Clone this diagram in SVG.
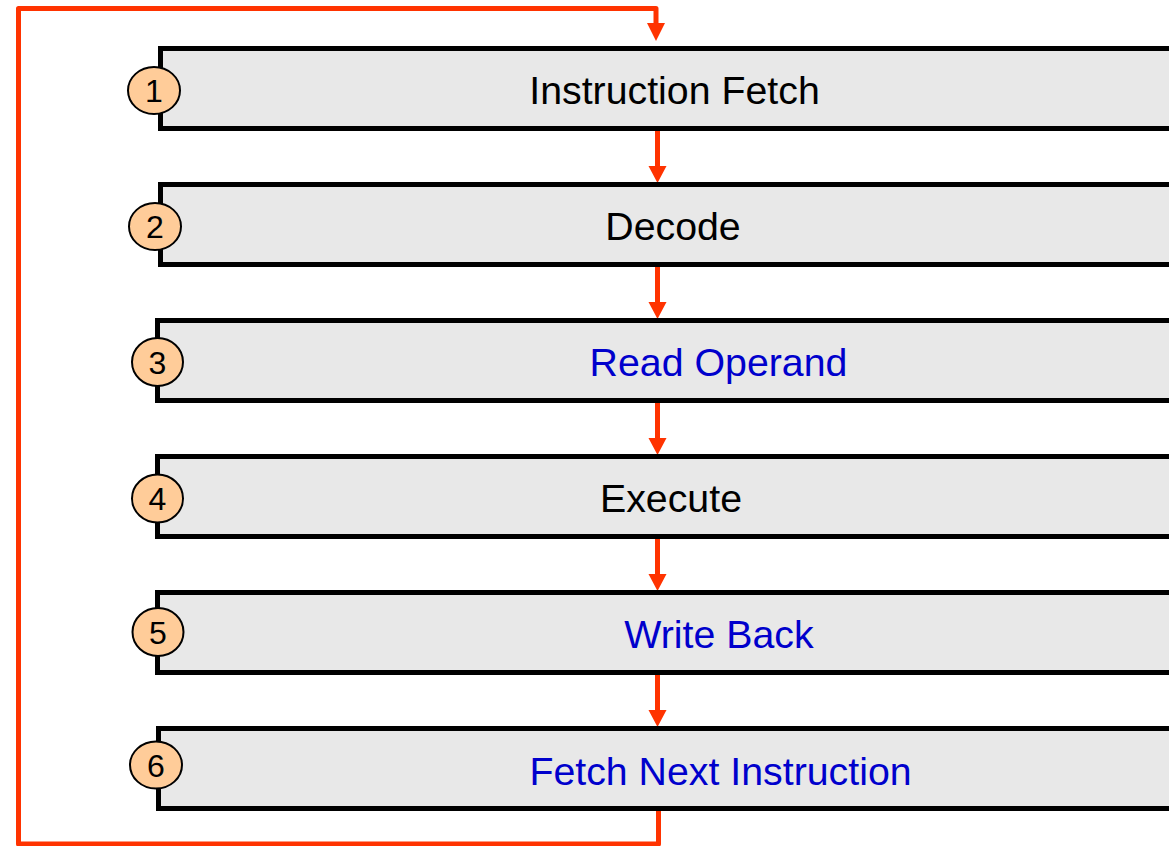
<svg xmlns="http://www.w3.org/2000/svg" width="1169" height="846" viewBox="0 0 1169 846">
  <style>
    .box { fill: #E8E8E8; stroke: #000; stroke-width: 5; }
    .badge { fill: #FFCC99; stroke: #000; stroke-width: 2; }
    .num { font-family: "Liberation Sans", Arial, sans-serif; font-size: 32px; fill: #000; text-anchor: middle; }
    .label { font-family: "Liberation Sans", Arial, sans-serif; font-size: 39.3px; text-anchor: middle; }
    .black { fill: #000; }
    .blue { fill: #0000CC; }
    .flow { fill: none; stroke: #FF3300; stroke-width: 5; stroke-linejoin: round; }
    .head { fill: #FF3300; }
  </style>

  <!-- connectors -->
  <g id="connectors">
    <!-- loop back from the last stage to the first -->
    <polyline class="flow" points="658.5,811 658.5,844 18.5,844 18.5,8.5 656,8.5 656,26"/>
    <polygon class="head" points="647,23 665,23 656,41"/>
    <!-- stage to stage -->
    <line class="flow" x1="657.5" y1="131" x2="657.5" y2="168"/>
    <polygon class="head" points="648.5,166 666.5,166 657.5,183"/>
    <line class="flow" x1="657.5" y1="267" x2="657.5" y2="304"/>
    <polygon class="head" points="648.5,302 666.5,302 657.5,319"/>
    <line class="flow" x1="657.5" y1="403" x2="657.5" y2="440"/>
    <polygon class="head" points="648.5,438 666.5,438 657.5,455"/>
    <line class="flow" x1="657.5" y1="539" x2="657.5" y2="576"/>
    <polygon class="head" points="648.5,574 666.5,574 657.5,591"/>
    <line class="flow" x1="657.5" y1="675" x2="657.5" y2="712"/>
    <polygon class="head" points="648.5,710 666.5,710 657.5,727"/>
  </g>

  <g id="stage1">
    <rect class="box" x="160.5" y="48.5" width="1020" height="80"/>
    <ellipse class="badge" cx="154" cy="90.5" rx="26" ry="23.5"/>
    <text class="num" x="154" y="102">1</text>
    <text class="label black" x="674.5" y="103.5">Instruction Fetch</text>
  </g>

  <g id="stage2">
    <rect class="box" x="160.5" y="184.5" width="1020" height="80"/>
    <ellipse class="badge" cx="155" cy="226.5" rx="26" ry="23.5"/>
    <text class="num" x="155" y="238">2</text>
    <text class="label black" x="673" y="239.5">Decode</text>
  </g>

  <g id="stage3">
    <rect class="box" x="157.5" y="320.5" width="1020" height="80"/>
    <ellipse class="badge" cx="157.5" cy="362" rx="25.5" ry="24"/>
    <text class="num" x="157.5" y="374">3</text>
    <text class="label blue" x="718.5" y="375.5">Read Operand</text>
  </g>

  <g id="stage4">
    <rect class="box" x="157.5" y="456.5" width="1020" height="80"/>
    <ellipse class="badge" cx="157.5" cy="498.5" rx="25.5" ry="24"/>
    <text class="num" x="157.5" y="510">4</text>
    <text class="label black" x="671" y="512">Execute</text>
  </g>

  <g id="stage5">
    <rect class="box" x="157.5" y="592.5" width="1020" height="80"/>
    <ellipse class="badge" cx="158" cy="632" rx="25.5" ry="24"/>
    <text class="num" x="158" y="643.5">5</text>
    <text class="label blue" x="719" y="648">Write Back</text>
  </g>

  <g id="stage6">
    <rect class="box" x="158.5" y="728.5" width="1020" height="80"/>
    <ellipse class="badge" cx="156" cy="765" rx="26" ry="23.5"/>
    <text class="num" x="156" y="776.5">6</text>
    <text class="label blue" x="720.5" y="785">Fetch Next Instruction</text>
  </g>
</svg>
